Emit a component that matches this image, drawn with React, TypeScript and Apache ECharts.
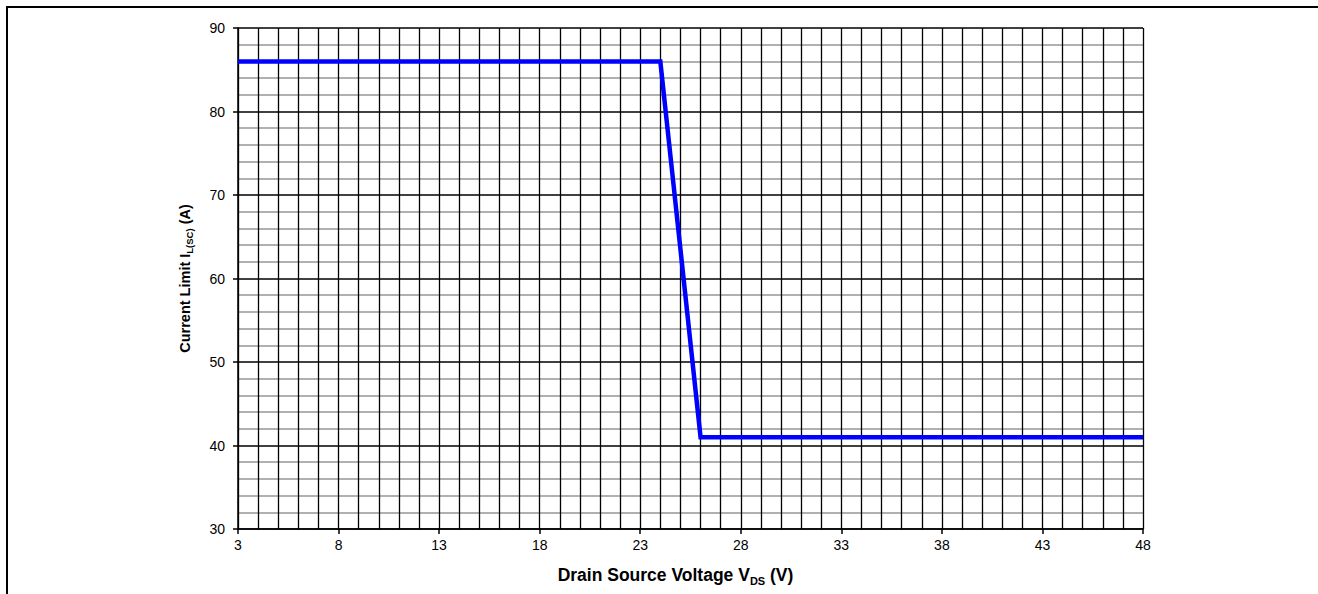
import React, { useEffect, useRef } from "react";
import * as echarts from "echarts";

const voltage = [3, 24, 26, 48];
const currentLimit = [86, 86, 41, 41];
const xMin = 3;
const xMax = 48;
const yMin = 30;
const yMax = 90;

const FONT = "'Liberation Sans', Arial, sans-serif";

export default function App() {
  const ref = useRef<HTMLDivElement>(null);
  useEffect(() => {
    if (!ref.current) return;
    const chart = echarts.init(ref.current, null, { renderer: "svg" });
    const data = voltage.map((v, i) => [v, currentLimit[i]]);
    chart.setOption({
      animation: false,
      textStyle: { fontFamily: FONT },
      grid: { left: 238, top: 28, width: 905, height: 501, containLabel: false },
      graphic: [
        {
          type: "rect",
          shape: { x: 7, y: 7, width: 1400, height: 700 },
          style: { fill: "none", stroke: "#000", lineWidth: 2 },
          silent: true,
        },
      ],
      xAxis: {
        type: "value",
        min: xMin,
        max: xMax,
        interval: 5,
        position: "bottom",
        z: 3,
        axisLine: { show: true, lineStyle: { color: "#000", width: 1.5 } },
        axisTick: { show: true, length: 5, lineStyle: { color: "#000", width: 1.5 } },
        minorTick: { show: false, splitNumber: 5 },
        axisLabel: { fontSize: 14, color: "#000", margin: 9, fontFamily: FONT },
        splitLine: { show: true, lineStyle: { color: "#000", width: 1.3 } },
        minorSplitLine: { show: true, lineStyle: { color: "#000", width: 1.3 } },
        name: "{a|Drain Source Voltage V}{s|DS}{a| (V)}",
        nameLocation: "middle",
        nameGap: 35,
        nameTextStyle: {
          padding: [0, 30, 0, 0],
          rich: {
            a: { fontSize: 17.5, fontWeight: "bold", color: "#000", fontFamily: FONT, lineHeight: 22 },
            s: { fontSize: 11, fontWeight: "bold", color: "#000", fontFamily: FONT, lineHeight: 12, verticalAlign: "bottom" },
          },
        },
      },
      yAxis: {
        type: "value",
        min: yMin,
        max: yMax,
        interval: 10,
        position: "left",
        z: 1,
        axisLine: { show: true, lineStyle: { color: "#000", width: 1.5 } },
        axisTick: { show: true, length: 5, lineStyle: { color: "#000", width: 1.5 } },
        minorTick: { show: false, splitNumber: 5 },
        axisLabel: { fontSize: 14, color: "#000", margin: 13, fontFamily: FONT },
        splitLine: { show: true, lineStyle: { color: "#000", width: 1.5 } },
        minorSplitLine: { show: true, lineStyle: { color: "#b0b0b0", width: 2 } },
        name: "{a|Current Limit I}{s|L(SC)}{a| (A)}",
        nameLocation: "middle",
        nameGap: 44,
        nameRotate: 90,
        nameTextStyle: {
          rich: {
            a: { fontSize: 14.5, fontWeight: "bold", color: "#000", fontFamily: FONT, lineHeight: 18 },
            s: { fontSize: 9.5, fontWeight: "bold", color: "#000", fontFamily: FONT, lineHeight: 10, verticalAlign: "bottom" },
          },
        },
      },
      series: [
        {
          type: "line",
          data,
          symbol: "none",
          z: 10,
          lineStyle: { color: "#0000ff", width: 4.5, join: "miter" },
        },
      ],
    });
    return () => chart.dispose();
  }, []);
  return (
    <div
      ref={ref}
      style={{ position: "absolute", left: 0, top: 0, width: 1318, height: 594 }}
    />
  );
}
